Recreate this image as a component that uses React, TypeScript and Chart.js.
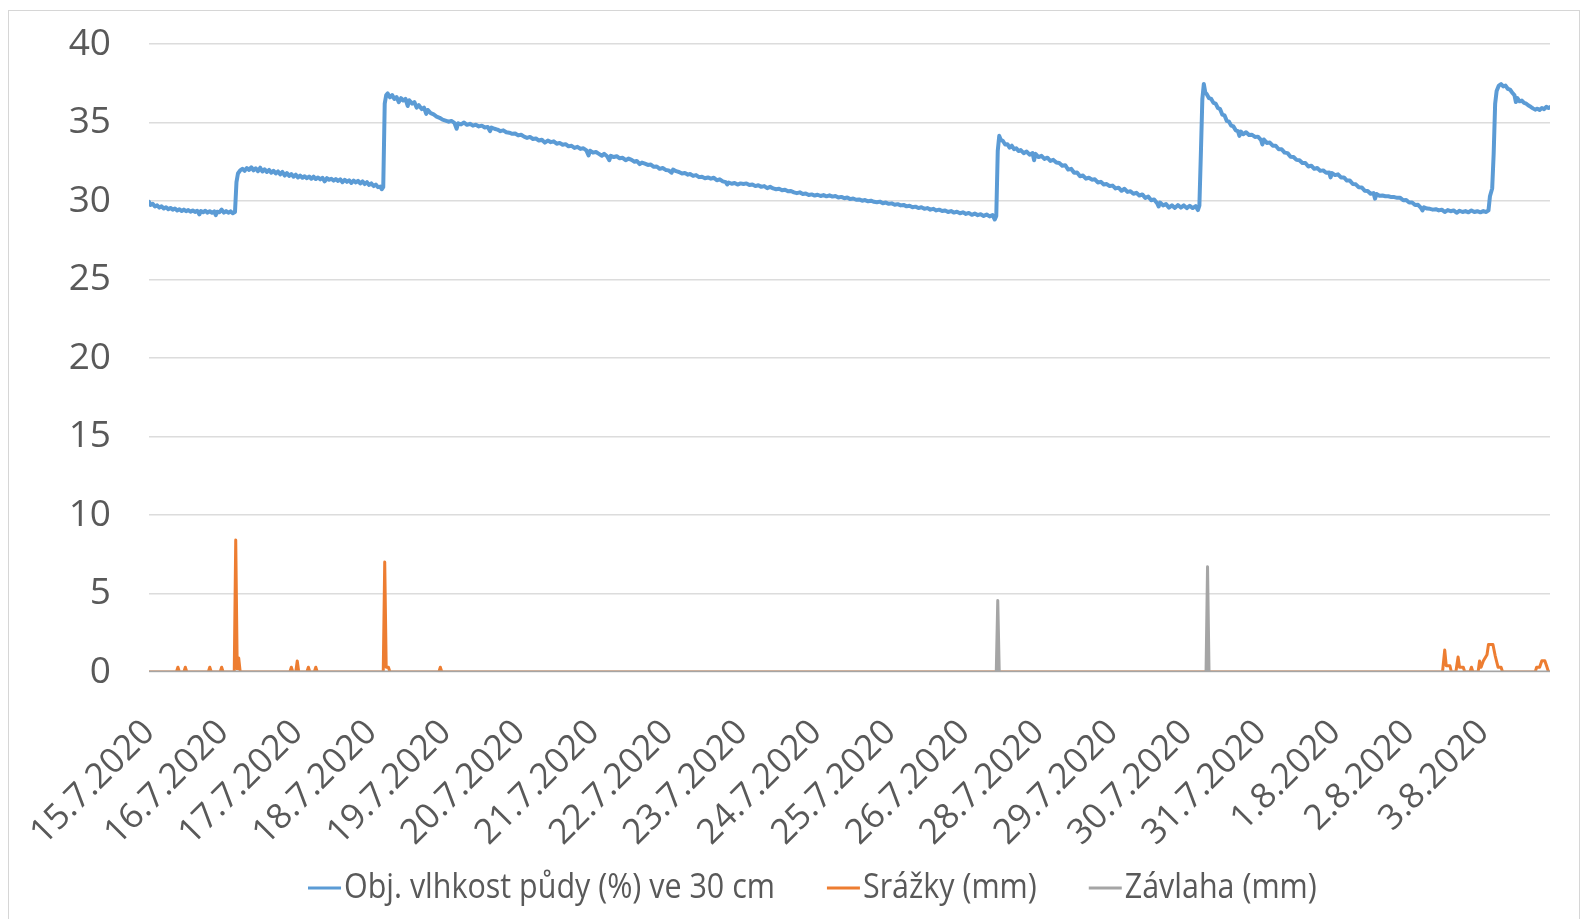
import React, { useEffect, useRef } from "react";
import { Chart, registerables } from "chart.js";

Chart.register(...registerables);

// Day labels on the category ticks (there is no label for 27.7.)
const dateLabels = [
  "15.7.2020", "16.7.2020", "17.7.2020", "18.7.2020", "19.7.2020", "20.7.2020",
  "21.7.2020", "22.7.2020", "23.7.2020", "24.7.2020", "25.7.2020", "26.7.2020",
  "28.7.2020", "29.7.2020", "30.7.2020", "31.7.2020", "1.8.2020", "2.8.2020", "3.8.2020",
];

const yTicks = [0, 5, 10, 15, 20, 25, 30, 35, 40];

// Soil moisture readings [tick position, %], split by wetting event
const moistureStart: [number, number][] = [
  [0, 29.95], [0.02, 29.75], [0.05, 29.82], [0.08, 29.65], [0.11, 29.72], [0.14, 29.58], [0.17, 29.66],
  [0.2, 29.52], [0.23, 29.6], [0.26, 29.48], [0.29, 29.56], [0.32, 29.45], [0.35, 29.52], [0.38, 29.4],
  [0.41, 29.48], [0.44, 29.36], [0.47, 29.45], [0.5, 29.35], [0.53, 29.42], [0.56, 29.32], [0.59, 29.4],
  [0.62, 29.3], [0.65, 29.38], [0.68, 29.15], [0.7, 29.36], [0.73, 29.28], [0.76, 29.38], [0.79, 29.26],
  [0.82, 29.35], [0.85, 29.25], [0.88, 29.34], [0.9, 29.1], [0.92, 29.32], [0.95, 29.28], [0.98, 29.45],
  [1.01, 29.26], [1.04, 29.36], [1.07, 29.25], [1.1, 29.34], [1.13, 29.22], [1.16, 29.3],
];

const moistureRain1: [number, number][] = [
  [1.18, 31.2], [1.2, 31.75], [1.23, 31.95], [1.26, 32.05], [1.29, 31.92], [1.32, 32.1], [1.35, 31.98],
  [1.38, 32.15], [1.41, 31.95], [1.44, 32.08], [1.47, 31.9], [1.5, 32.12], [1.53, 31.88], [1.56, 32.02],
  [1.59, 31.85], [1.62, 31.98], [1.65, 31.8], [1.68, 31.92], [1.71, 31.76], [1.74, 31.88], [1.77, 31.7],
  [1.8, 31.85], [1.83, 31.62], [1.86, 31.78], [1.89, 31.6], [1.92, 31.72], [1.95, 31.55], [1.98, 31.68],
  [2.01, 31.5], [2.04, 31.62], [2.07, 31.48], [2.1, 31.58], [2.13, 31.45], [2.16, 31.56], [2.19, 31.42],
  [2.22, 31.55], [2.25, 31.4], [2.28, 31.5], [2.31, 31.38], [2.34, 31.48], [2.37, 31.25], [2.4, 31.45],
  [2.43, 31.35], [2.46, 31.42], [2.49, 31.3], [2.52, 31.4], [2.55, 31.28], [2.58, 31.38], [2.61, 31.2],
  [2.64, 31.35], [2.67, 31.22], [2.7, 31.32], [2.73, 31.15], [2.76, 31.3], [2.79, 31.18], [2.82, 31.28],
  [2.85, 31.12], [2.88, 31.25], [2.91, 31.08], [2.94, 31.2], [2.97, 31.02], [3.0, 31.12], [3.03, 30.95],
  [3.06, 31.05], [3.09, 30.88], [3.12, 30.92], [3.14, 30.75], [3.16, 30.88],
];

const moistureRain2: [number, number][] = [
  [3.18, 36.2], [3.2, 36.75], [3.22, 36.85], [3.25, 36.6], [3.28, 36.75], [3.31, 36.5], [3.34, 36.62],
  [3.37, 36.3], [3.4, 36.55], [3.43, 36.4], [3.46, 36.5], [3.49, 36.05], [3.51, 36.42], [3.55, 36.2],
  [3.58, 36.3], [3.61, 35.95], [3.64, 36.1], [3.68, 35.85], [3.71, 35.95], [3.74, 35.55], [3.76, 35.8],
  [3.8, 35.6], [3.84, 35.52], [3.88, 35.38], [3.92, 35.3], [3.96, 35.18], [4.0, 35.12], [4.04, 35.05],
  [4.08, 35.1], [4.12, 34.98], [4.15, 34.6], [4.17, 34.95], [4.21, 34.88], [4.25, 35.0], [4.29, 34.85],
  [4.33, 34.92], [4.37, 34.8], [4.41, 34.86], [4.45, 34.75], [4.49, 34.8], [4.53, 34.68], [4.57, 34.72],
  [4.6, 34.45], [4.62, 34.68], [4.66, 34.6], [4.7, 34.55], [4.74, 34.45], [4.78, 34.5], [4.82, 34.38],
  [4.86, 34.35], [4.9, 34.28], [4.94, 34.3], [4.98, 34.18], [5.02, 34.22], [5.06, 34.1], [5.1, 34.02],
  [5.14, 34.08], [5.18, 33.95], [5.22, 33.98], [5.26, 33.85], [5.3, 33.9], [5.34, 33.72], [5.38, 33.85],
  [5.42, 33.75], [5.46, 33.8], [5.5, 33.65], [5.54, 33.7], [5.58, 33.58], [5.62, 33.62], [5.66, 33.48],
  [5.7, 33.52], [5.74, 33.38], [5.78, 33.45], [5.82, 33.32], [5.86, 33.36], [5.9, 33.22], [5.93, 32.9],
  [5.95, 33.2], [5.99, 33.08], [6.03, 33.12], [6.07, 33.0], [6.11, 32.88], [6.14, 33.0], [6.18, 32.85],
  [6.21, 32.6], [6.23, 32.88], [6.27, 32.8], [6.31, 32.85], [6.35, 32.72], [6.39, 32.75], [6.43, 32.6],
  [6.47, 32.7], [6.51, 32.62], [6.55, 32.5], [6.58, 32.55], [6.62, 32.35], [6.65, 32.45], [6.69, 32.38],
  [6.73, 32.3], [6.77, 32.32], [6.81, 32.18], [6.85, 32.2], [6.89, 32.05], [6.93, 32.1], [6.97, 31.98],
  [7.01, 31.95], [7.05, 31.8], [7.07, 32.0], [7.11, 31.9], [7.15, 31.85], [7.19, 31.75], [7.23, 31.78],
  [7.27, 31.68], [7.3, 31.72], [7.34, 31.6], [7.38, 31.65], [7.42, 31.52], [7.46, 31.55], [7.5, 31.45],
  [7.54, 31.5], [7.58, 31.42], [7.62, 31.48], [7.66, 31.32], [7.7, 31.38], [7.74, 31.25], [7.78, 31.2],
  [7.8, 31.05], [7.82, 31.18], [7.86, 31.1], [7.9, 31.15], [7.94, 31.05], [7.98, 31.12], [8.02, 31.08],
  [8.06, 31.12], [8.1, 31.02], [8.14, 31.05], [8.18, 30.95], [8.22, 31.0], [8.26, 30.9], [8.3, 30.95],
  [8.34, 30.82], [8.38, 30.9], [8.42, 30.8], [8.46, 30.75], [8.5, 30.78], [8.54, 30.68], [8.58, 30.72],
  [8.62, 30.62], [8.66, 30.64], [8.7, 30.55], [8.74, 30.5], [8.78, 30.55], [8.82, 30.45], [8.86, 30.48],
  [8.9, 30.38], [8.94, 30.42], [8.98, 30.35], [9.02, 30.4], [9.06, 30.32], [9.1, 30.38], [9.14, 30.3],
  [9.18, 30.36], [9.22, 30.28], [9.26, 30.32], [9.3, 30.22], [9.34, 30.26], [9.38, 30.18], [9.42, 30.22],
  [9.46, 30.12], [9.5, 30.16], [9.54, 30.08], [9.58, 30.1], [9.62, 30.02], [9.66, 30.06], [9.7, 29.98],
  [9.74, 30.02], [9.78, 29.95], [9.82, 29.92], [9.86, 29.96], [9.9, 29.86], [9.94, 29.9], [9.98, 29.82],
  [10.02, 29.85], [10.06, 29.76], [10.1, 29.8], [10.14, 29.72], [10.18, 29.75], [10.22, 29.66], [10.26, 29.7],
  [10.3, 29.6], [10.34, 29.64], [10.38, 29.55], [10.42, 29.6], [10.46, 29.5], [10.5, 29.55], [10.54, 29.45],
  [10.58, 29.5], [10.62, 29.4], [10.66, 29.45], [10.7, 29.36], [10.74, 29.4], [10.78, 29.3], [10.82, 29.36],
  [10.86, 29.26], [10.9, 29.32], [10.94, 29.22], [10.98, 29.28], [11.02, 29.18], [11.06, 29.24], [11.1, 29.12],
  [11.14, 29.2], [11.18, 29.1], [11.22, 29.16], [11.26, 29.05], [11.3, 29.14], [11.34, 29.02], [11.38, 29.1],
  [11.41, 28.82], [11.43, 29.05],
];

const moistureIrrigation1: [number, number][] = [
  [11.45, 33.2], [11.47, 34.15], [11.49, 33.9], [11.52, 33.82], [11.55, 33.6], [11.58, 33.62], [11.61, 33.4],
  [11.64, 33.52], [11.67, 33.3], [11.7, 33.36], [11.73, 33.18], [11.76, 33.24], [11.8, 33.05], [11.84, 33.15],
  [11.88, 32.95], [11.92, 33.05], [11.94, 32.6], [11.96, 33.0], [12.0, 32.8], [12.04, 32.88], [12.08, 32.68],
  [12.12, 32.76], [12.16, 32.55], [12.2, 32.62], [12.24, 32.45], [12.28, 32.42], [12.32, 32.25], [12.36, 32.28],
  [12.4, 32.0], [12.44, 32.05], [12.48, 31.8], [12.52, 31.82], [12.56, 31.58], [12.6, 31.62], [12.64, 31.42],
  [12.68, 31.48], [12.72, 31.36], [12.76, 31.38], [12.8, 31.18], [12.84, 31.22], [12.88, 31.05], [12.92, 31.08],
  [12.96, 30.95], [13.0, 30.98], [13.04, 30.8], [13.08, 30.85], [13.12, 30.65], [13.16, 30.78], [13.2, 30.58],
  [13.24, 30.62], [13.28, 30.46], [13.32, 30.52], [13.36, 30.35], [13.4, 30.42], [13.44, 30.2], [13.48, 30.28],
  [13.52, 30.05], [13.56, 30.1], [13.6, 29.86], [13.62, 29.65], [13.64, 29.9], [13.68, 29.72], [13.72, 29.8],
  [13.76, 29.58], [13.8, 29.72], [13.84, 29.56], [13.88, 29.74], [13.92, 29.58], [13.96, 29.72], [14.0, 29.55],
  [14.04, 29.7], [14.08, 29.55], [14.12, 29.68], [14.15, 29.42], [14.17, 29.7],
];

const moistureIrrigation2: [number, number][] = [
  [14.19, 33.0], [14.21, 36.5], [14.23, 37.45], [14.25, 36.9], [14.27, 36.8], [14.3, 36.55], [14.33, 36.5],
  [14.36, 36.25], [14.39, 36.2], [14.42, 35.92], [14.45, 35.85], [14.48, 35.5], [14.51, 35.45], [14.54, 35.1],
  [14.57, 35.05], [14.6, 34.8], [14.63, 34.75], [14.66, 34.5], [14.69, 34.45], [14.71, 34.15], [14.73, 34.42],
  [14.76, 34.25], [14.8, 34.38], [14.84, 34.2], [14.88, 34.22], [14.92, 34.08], [14.96, 34.1], [15.0, 33.9],
  [15.02, 33.6], [15.04, 33.92], [15.08, 33.7], [15.12, 33.72], [15.16, 33.52], [15.2, 33.52], [15.24, 33.3],
  [15.28, 33.3], [15.32, 33.08], [15.36, 33.05], [15.4, 32.82], [15.44, 32.8], [15.48, 32.62], [15.52, 32.6],
  [15.56, 32.42], [15.6, 32.42], [15.64, 32.2], [15.68, 32.25], [15.72, 32.05], [15.76, 32.1], [15.8, 31.92],
  [15.84, 31.95], [15.88, 31.8], [15.92, 31.82], [15.94, 31.5], [15.96, 31.78], [16.0, 31.65], [16.04, 31.7],
  [16.08, 31.5], [16.12, 31.5], [16.16, 31.3], [16.2, 31.3], [16.24, 31.08], [16.28, 31.06], [16.32, 30.88],
  [16.36, 30.86], [16.4, 30.66], [16.44, 30.64], [16.48, 30.46], [16.52, 30.5], [16.54, 30.15], [16.56, 30.45],
  [16.6, 30.34], [16.64, 30.35], [16.68, 30.3], [16.72, 30.3], [16.76, 30.25], [16.8, 30.25], [16.84, 30.2],
  [16.88, 30.2], [16.92, 30.05], [16.96, 30.06], [17.0, 29.9], [17.04, 29.9], [17.08, 29.74], [17.12, 29.76],
  [17.16, 29.56], [17.18, 29.4], [17.2, 29.6], [17.24, 29.52], [17.28, 29.5], [17.32, 29.45], [17.36, 29.48],
  [17.4, 29.4], [17.44, 29.45], [17.48, 29.3], [17.52, 29.42], [17.56, 29.35], [17.6, 29.4], [17.64, 29.25],
  [17.68, 29.38], [17.72, 29.3], [17.76, 29.36], [17.8, 29.28], [17.84, 29.4], [17.88, 29.3], [17.92, 29.35],
  [17.96, 29.28], [18.0, 29.36], [18.04, 29.3], [18.07, 29.4],
];

const moistureRain3: [number, number][] = [
  [18.09, 30.3], [18.12, 30.8], [18.14, 33.0], [18.16, 36.2], [18.18, 37.0], [18.21, 37.35], [18.24, 37.45],
  [18.27, 37.3], [18.3, 37.35], [18.33, 37.15], [18.36, 37.1], [18.39, 36.9], [18.42, 36.75], [18.44, 36.3],
  [18.46, 36.55], [18.49, 36.35], [18.52, 36.4], [18.55, 36.25], [18.58, 36.2], [18.61, 36.08], [18.64, 36.0],
  [18.67, 35.9], [18.7, 35.82], [18.73, 35.88], [18.76, 35.8], [18.79, 35.92], [18.82, 35.85], [18.85, 36.0],
  [18.88, 35.92], [18.9, 35.98],
];

// Rainfall (mm)
const rainfall: [number, number][] = [
  [0, 0],
  [0.37, 0], [0.39, 0.3], [0.41, 0],
  [0.47, 0], [0.49, 0.3], [0.51, 0],
  [0.8, 0], [0.82, 0.3], [0.84, 0],
  [0.96, 0], [0.98, 0.3], [1.0, 0],
  [1.15, 0], [1.17, 8.4], [1.19, 0.2], [1.21, 0.9], [1.23, 0],
  [1.9, 0], [1.92, 0.3], [1.94, 0], [1.98, 0], [2.0, 0.7], [2.02, 0],
  [2.13, 0], [2.15, 0.3], [2.17, 0],
  [2.23, 0], [2.25, 0.3], [2.27, 0],
  [3.16, 0], [3.18, 7.0], [3.2, 0.3], [3.23, 0.3], [3.25, 0],
  [3.91, 0], [3.93, 0.3], [3.95, 0],
  [17.45, 0], [17.48, 1.4], [17.5, 0.4], [17.55, 0.4], [17.57, 0],
  [17.63, 0], [17.66, 0.95], [17.68, 0.3], [17.73, 0.3], [17.75, 0],
  [17.82, 0], [17.84, 0.3], [17.86, 0],
  [17.93, 0], [17.95, 0.7], [17.97, 0.3], [18.0, 0.7], [18.05, 1.1], [18.07, 1.75], [18.13, 1.75],
  [18.16, 1.05], [18.2, 0.3], [18.24, 0.3], [18.26, 0],
  [18.7, 0], [18.72, 0.3], [18.76, 0.3], [18.79, 0.72], [18.83, 0.72], [18.86, 0.3], [18.88, 0],
  [18.9, 0],
];

// Irrigation (mm)
const irrigation: [number, number][] = [
  [0, 0], [11.43, 0], [11.45, 4.55], [11.47, 0],
  [14.26, 0], [14.28, 6.7], [14.3, 0], [18.9, 0],
];

const seriesNames = ["Obj. vlhkost půdy (%) ve 30 cm", "Srážky (mm)", "Závlaha (mm)"];
const seriesColors = ["#5B9BD5", "#ED7D31", "#A5A5A5"];

const TEXT_COLOR = "#595959";
const TICK_FONT = "'Open Sans', sans-serif";
const LEGEND_FONT = "35px 'Open Sans', sans-serif";
const LEGEND_CONDENSE = 0.87;

const toPoints = (rows: [number, number][]) => rows.map(([x, y]) => ({ x, y }));

// Legend row under the axis: short line sample, then the (slightly condensed) series name
const bottomLegend = {
  id: "bottomLegend",
  afterDraw(chart: any) {
    const { ctx } = chart;
    ctx.save();
    ctx.font = LEGEND_FONT;
    ctx.textBaseline = "middle";
    ctx.textAlign = "left";
    const y = 888;
    let x = 308;
    chart.data.datasets.forEach((ds: any) => {
      ctx.strokeStyle = ds.borderColor;
      ctx.lineWidth = 3;
      ctx.beginPath();
      ctx.moveTo(x, y);
      ctx.lineTo(x + 33, y);
      ctx.stroke();
      const tx = x + 36;
      ctx.save();
      ctx.translate(tx, y);
      ctx.scale(LEGEND_CONDENSE, 1);
      ctx.fillStyle = TEXT_COLOR;
      ctx.fillText(ds.label, 0, 0);
      ctx.restore();
      x = tx + ctx.measureText(ds.label).width * LEGEND_CONDENSE + 52;
    });
    ctx.restore();
  },
};

export default function App() {
  const canvasRef = useRef<HTMLCanvasElement>(null);

  useEffect(() => {
    if (!canvasRef.current) return;
    const moisture = [
      ...moistureStart, ...moistureRain1, ...moistureRain2,
      ...moistureIrrigation1, ...moistureIrrigation2, ...moistureRain3,
    ];
    const chart = new Chart(canvasRef.current, {
      type: "line",
      data: {
        datasets: [
          {
            label: seriesNames[0],
            data: toPoints(moisture),
            borderColor: seriesColors[0],
            borderWidth: 4,
            order: 2,
          },
          {
            label: seriesNames[1],
            data: toPoints(rainfall),
            borderColor: seriesColors[1],
            borderWidth: 3,
            order: 1,
          },
          {
            label: seriesNames[2],
            data: toPoints(irrigation),
            borderColor: seriesColors[2],
            borderWidth: 3,
            order: 0,
          },
        ],
      },
      options: {
        responsive: false,
        animation: false,
        elements: {
          point: { radius: 0, hoverRadius: 0 },
          line: { tension: 0, borderJoinStyle: "round", borderCapStyle: "round", fill: false },
        },
        layout: { padding: { top: 44, right: 33, bottom: 0, left: 0 } },
        plugins: {
          legend: { display: false },
          tooltip: { enabled: false },
        },
        scales: {
          x: {
            type: "linear",
            min: 0,
            max: 18.9,
            afterBuildTicks: (axis: any) => {
              axis.ticks = dateLabels.map((_, i) => ({ value: i }));
            },
            afterFit: (axis: any) => {
              axis.height = 247;
              axis.paddingLeft = 0;
              axis.paddingRight = 0;
            },
            grid: { display: false, drawTicks: false },
            border: { display: false },
            ticks: {
              autoSkip: false,
              minRotation: 45,
              maxRotation: 45,
              padding: 40,
              color: TEXT_COLOR,
              font: { family: TICK_FONT, size: 35 },
              callback: (value: any) => dateLabels[Math.round(Number(value))] ?? "",
            },
          },
          y: {
            min: 0,
            max: 40,
            afterBuildTicks: (axis: any) => {
              axis.ticks = yTicks.map((v) => ({ value: v }));
            },
            afterFit: (axis: any) => {
              axis.width = 149;
              axis.paddingTop = 0;
              axis.paddingBottom = 0;
            },
            grid: { color: "#dcdcdc", lineWidth: 1.5, drawTicks: false },
            border: { display: false },
            ticks: {
              padding: 38,
              color: TEXT_COLOR,
              font: { family: TICK_FONT, size: 37 },
            },
          },
        },
      },
      plugins: [bottomLegend],
    });
    return () => chart.destroy();
  }, []);

  return (
    <div style={{ position: "fixed", left: 0, top: 0, width: 1583, height: 919, background: "#ffffff", overflow: "hidden" }}>
      <div
        style={{
          position: "absolute",
          left: 8,
          top: 10,
          width: 1572,
          height: 930,
          borderLeft: "1.5px solid #d6d6d6",
          borderTop: "1.5px solid #d6d6d6",
          borderRight: "1.5px solid #d6d6d6",
          boxSizing: "border-box",
        }}
      />
      <canvas ref={canvasRef} width={1583} height={919} style={{ position: "absolute", left: 0, top: 0 }} />
    </div>
  );
}
